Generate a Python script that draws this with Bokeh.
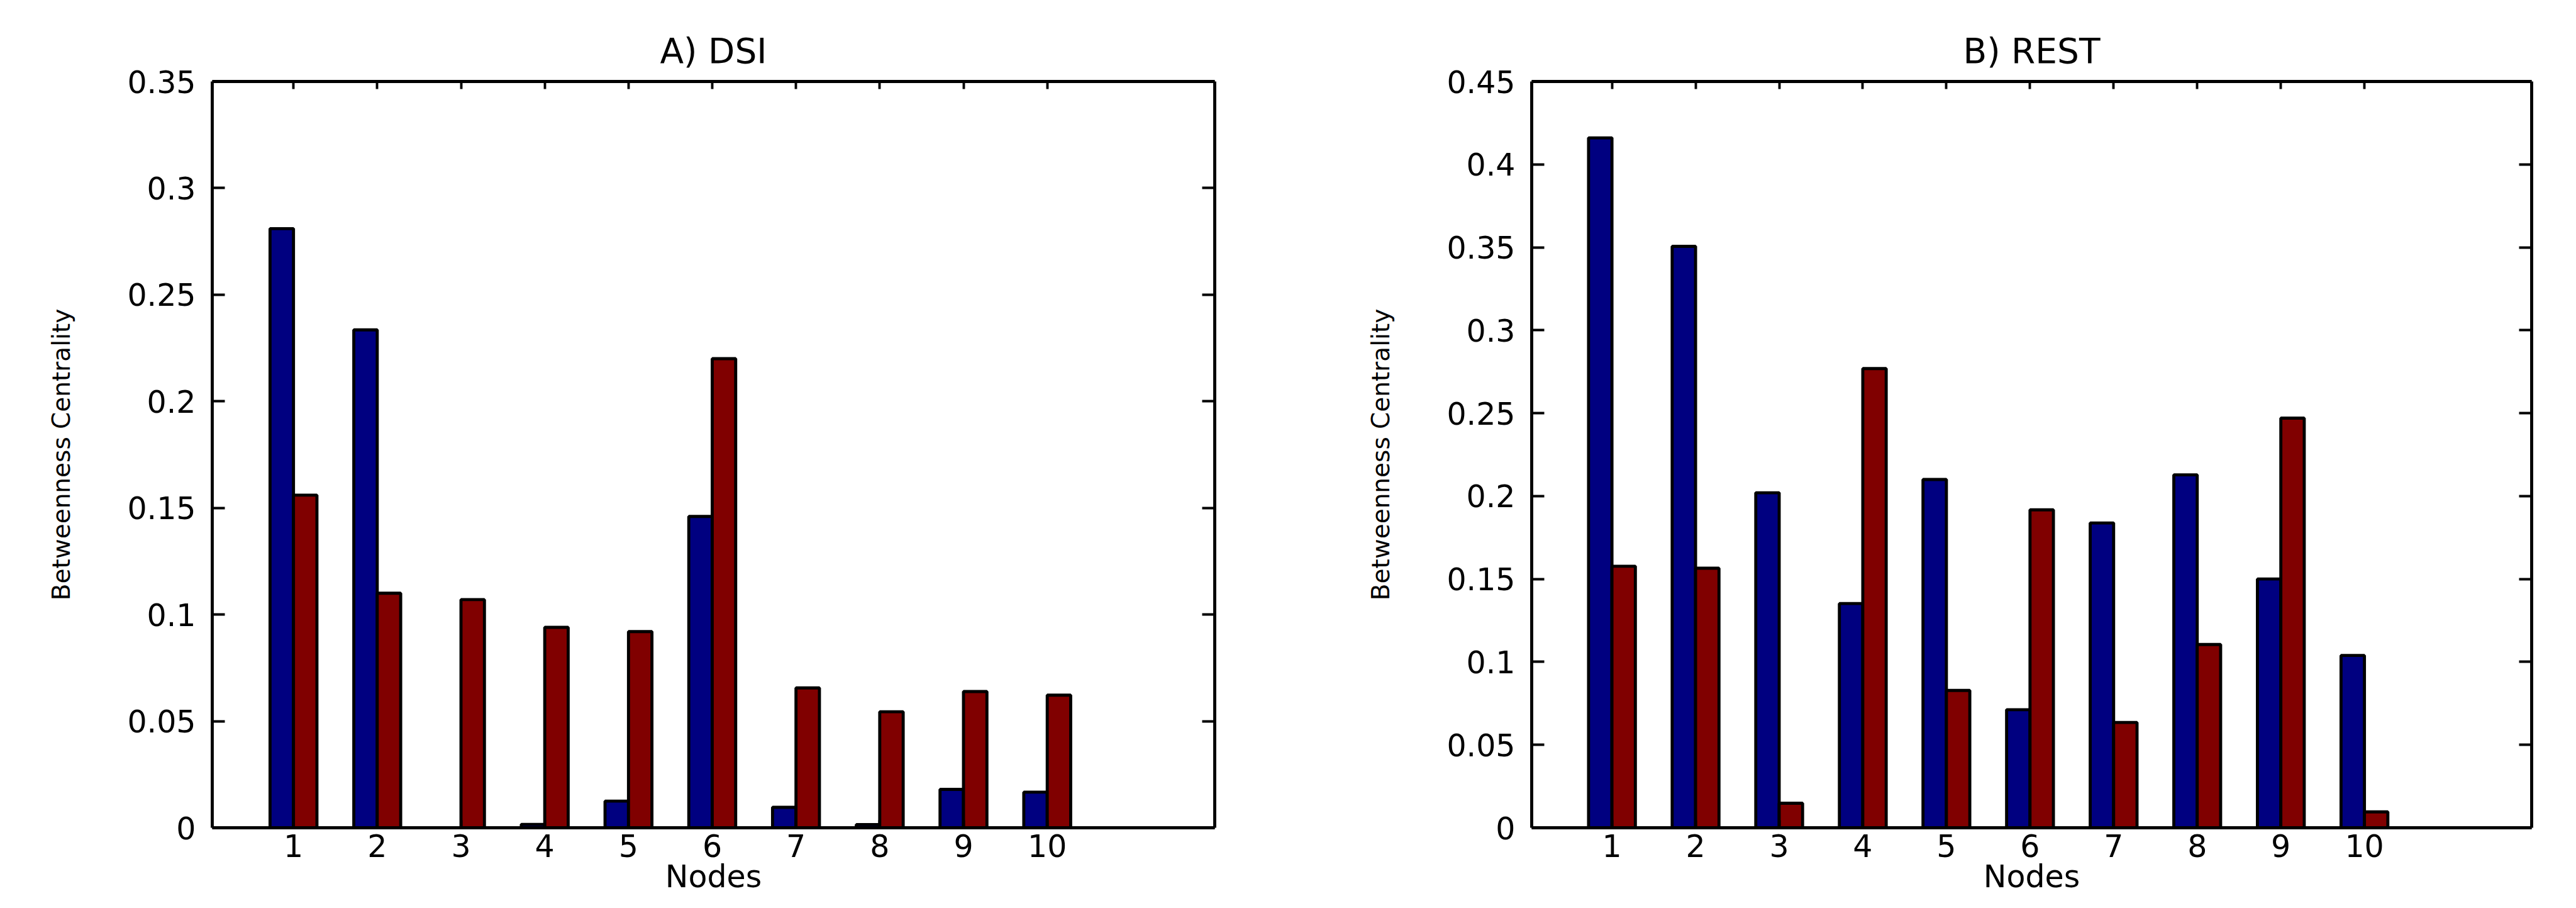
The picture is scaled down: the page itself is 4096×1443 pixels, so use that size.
from bokeh.plotting import figure
from bokeh.models import ColumnDataSource, Range1d, FixedTicker, LinearAxis
from bokeh.layouts import row
from bokeh.transform import dodge
from bokeh.embed import file_html
from bokeh.resources import INLINE

# ---- data ----
nodes = [1, 2, 3, 4, 5, 6, 7, 8, 9, 10]
x_tick_labels = ["1", "2", "3", "4", "5", "6", "7", "8", "9", "10"]

dsi_blue = [0.281, 0.2335, 0.0, 0.0016, 0.0125, 0.146, 0.0096, 0.0015, 0.018, 0.0167]
dsi_red = [0.156, 0.110, 0.107, 0.094, 0.092, 0.220, 0.0656, 0.0544, 0.0639, 0.0622]

rest_blue = [0.416, 0.3506, 0.202, 0.1352, 0.210, 0.0712, 0.1838, 0.2128, 0.150, 0.1039]
rest_red = [0.1577, 0.1565, 0.0148, 0.2769, 0.0828, 0.1917, 0.0635, 0.1105, 0.247, 0.0096]

dsi_yticks = [0, 0.05, 0.1, 0.15, 0.2, 0.25, 0.3, 0.35]
dsi_ylabels = ["0", "0.05", "0.1", "0.15", "0.2", "0.25", "0.3", "0.35"]
rest_yticks = [0, 0.05, 0.1, 0.15, 0.2, 0.25, 0.3, 0.35, 0.4, 0.45]
rest_ylabels = ["0", "0.05", "0.1", "0.15", "0.2", "0.25", "0.3", "0.35", "0.4", "0.45"]

titles = ["A) DSI", "B) REST"]
x_label = "Nodes"
y_label = "Betweenness Centrality"

# ---- style ----
S = 0.972
FONT = "DejaVu Sans"
BLUE = "#000080"
RED = "#800000"
H = 1427
FRAME_TOP = 129
FRAME_H = 1186
TICK_FS = "%dpx" % round(50 * S)
TITLE_FS = "%dpx" % round(57 * S)
XLAB_FS = "%dpx" % round(50 * S)
YLAB_FS = "%dpx" % round(40 * S)
LW = 5 * S
BAR_W = 0.28


def style_axis(ax, tick_in):
    ax.axis_line_width = LW
    ax.axis_line_color = "black"
    ax.major_tick_in = tick_in
    ax.major_tick_out = 0
    ax.major_tick_line_width = 4 * S
    ax.major_tick_line_color = "black"
    ax.minor_tick_line_color = None
    ax.major_label_text_font = FONT
    ax.major_label_text_font_size = TICK_FS
    ax.major_label_text_color = "black"
    ax.axis_label_text_font = FONT
    ax.axis_label_text_font_style = "normal"
    ax.axis_label_text_color = "black"


def make_panel(title, blue, red, ymax, yticks, ylabels, width, bl, fw, xstart):
    src = ColumnDataSource(dict(node=nodes, blue=blue, red=red))
    p = figure(width=width, height=H, x_range=Range1d(xstart, 12),
               y_range=Range1d(0, ymax), output_backend="svg",
               toolbar_location=None, min_border_left=bl,
               min_border_right=width - bl - fw,
               min_border_top=FRAME_TOP, min_border_bottom=H - FRAME_TOP - FRAME_H)
    p.xgrid.visible = False
    p.ygrid.visible = False
    p.outline_line_color = None
    p.background_fill_color = "white"
    p.border_fill_color = "white"

    p.vbar(x=dodge("node", -BAR_W / 2, range=p.x_range), top="blue", width=BAR_W,
           source=src, fill_color=BLUE, line_color="black", line_width=LW)
    p.vbar(x=dodge("node", BAR_W / 2, range=p.x_range), top="red", width=BAR_W,
           source=src, fill_color=RED, line_color="black", line_width=LW)

    xt = FixedTicker(ticks=nodes)
    yt = FixedTicker(ticks=yticks)

    xa = p.xaxis[0]
    xa.ticker = xt
    xa.major_label_overrides = {n: l for n, l in zip(nodes, x_tick_labels)}
    style_axis(xa, round(12 * S))
    xa.major_label_standoff = 10
    xa.axis_label = x_label
    xa.axis_label_text_font_size = XLAB_FS
    xa.axis_label_standoff = 0

    ya = p.yaxis[0]
    ya.ticker = yt
    ya.major_label_overrides = {v: l for v, l in zip(yticks, ylabels)}
    style_axis(ya, round(21 * S))
    ya.axis_label = y_label
    ya.axis_label_text_font_size = YLAB_FS
    ya.major_label_standoff = 26
    ya.axis_label_standoff = 79

    top = LinearAxis(ticker=xt, major_label_overrides={n: "" for n in nodes})
    style_axis(top, round(12 * S))
    p.add_layout(top, "above")
    right = LinearAxis(ticker=yt, major_label_overrides={v: "" for v in yticks})
    style_axis(right, round(21 * S))
    p.add_layout(right, "right")

    p.title.text = title
    p.title.align = "center"
    p.title.text_font = FONT
    p.title.text_font_style = "normal"
    p.title.text_font_size = TITLE_FS
    p.title.text_color = "black"
    p.title.standoff = 33
    return p


p1 = make_panel(titles[0], dsi_blue, dsi_red, 0.35, dsi_yticks, dsi_ylabels,
                2140, 337, 1594, 0.03)
p2 = make_panel(titles[1], rest_blue, rest_red, 0.45, rest_yticks, rest_ylabels,
                1940, 295, 1590, 0.04)

layout = row(p1, p2)
open("out.html", "w").write(file_html(layout, INLINE))
